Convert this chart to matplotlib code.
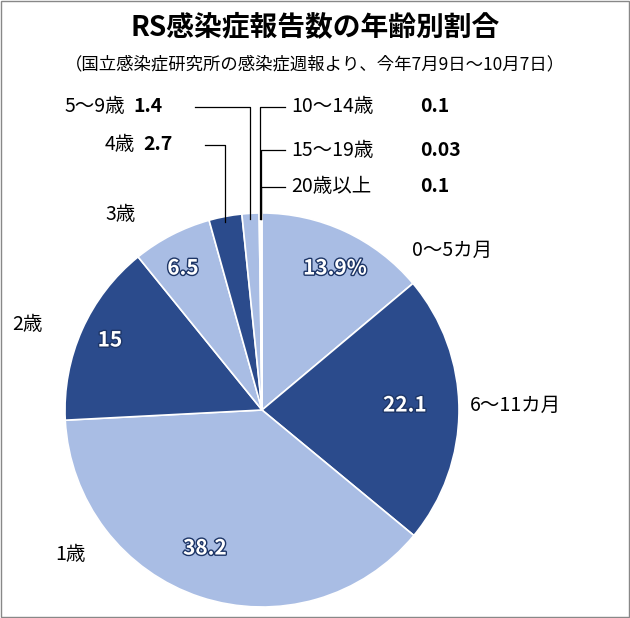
import numpy as np
import matplotlib.pyplot as plt
from matplotlib import patheffects as pe

plt.rcParams['font.family'] = ['Noto Sans CJK JP', 'DejaVu Sans']

ages = ["0～5カ月", "6～11カ月", "1歳", "2歳", "3歳", "4歳", "5～9歳",
        "10～14歳", "15～19歳", "20歳以上"]
shares = [13.9, 22.1, 38.2, 15, 6.5, 2.7, 1.4, 0.1, 0.03, 0.1]
share_text = ["13.9%", "22.1", "38.2", "15", "6.5", "2.7", "1.4", "0.1", "0.03", "0.1"]

light, dark = "#a9bde4", "#2b4b8c"
colors = [light if i % 2 == 0 else dark for i in range(len(shares))]

R = 197.0
cx, cy = 262, 410
W, H = 630, 618

fig = plt.figure(figsize=(6.3, 6.18), dpi=100)
ax = fig.add_axes([0, 0, 1, 1])
wedges, _ = ax.pie(shares, colors=colors, startangle=90, counterclock=False,
                   radius=1, wedgeprops=dict(edgecolor="white", linewidth=1.2))
ax.set_xlim(-cx / R, (W - cx) / R)
ax.set_ylim((cy - H) / R, cy / R)
ax.axis("off")


def px(x, y):
    return ((x - cx) / R, (cy - y) / R)


# border
fig.patches.append(plt.Rectangle((0.002, 0.002), 0.996, 0.996, transform=fig.transFigure,
                                 fill=False, edgecolor="#888888", linewidth=1))

fig.text(0.5, 1 - 27 / H, "RS感染症報告数の年齢別割合", ha="center", va="center",
         fontsize=20, fontweight="bold")
fig.text(0.5, 1 - 64 / H, "（国立感染症研究所の感染症週報より、今年7月9日～10月7日）",
         ha="center", va="center", fontsize=12.5)

# labels inside slices
inner = {0: (335, 268), 1: (405, 405), 2: (205, 548), 3: (110, 340), 4: (183, 268)}
for i, (x, y) in inner.items():
    ax.text(*px(x, y), share_text[i], ha="center", va="center", color="white",
            fontsize=15, fontweight="bold",
            path_effects=[pe.withStroke(linewidth=2, foreground="#1d3566")])

# outer labels for big slices
outer = {0: (412, 250), 1: (470, 405), 2: (55, 555), 3: (12, 325), 4: (105, 215)}
for i, (x, y) in outer.items():
    ax.text(*px(x, y), ages[i], ha="left", va="center", fontsize=14)

# small slices with leader lines
cum = np.cumsum([0] + shares)
tot = cum[-1]
lead = {5: (145, "left", 205), 6: (107, "left", 195),
        7: (107, "right", 285), 8: (150, "right", 285), 9: (187, "right", 285)}
for i, (ly, side, lx) in lead.items():
    mid = 90 - 360 * (cum[i] + shares[i] / 2) / tot
    xe = np.cos(np.radians(mid))
    ye = np.sin(np.radians(mid))
    ax.plot([xe, xe, (lx - cx) / R], [ye - 0.03, (cy - ly) / R, (cy - ly) / R],
            color="black", linewidth=0.9)
    if side == "left":
        vx = lx - 62
        ax.text(*px(vx, ly), share_text[i], ha="left", va="center", fontsize=14,
                fontweight="bold")
        ax.text(*px(vx - 8, ly), ages[i], ha="right", va="center", fontsize=14)
    else:
        ax.text(*px(lx + 6, ly), ages[i], ha="left", va="center", fontsize=14)
        ax.text(*px(420, ly), share_text[i], ha="left", va="center", fontsize=14,
                fontweight="bold")

fig.savefig("out.png", dpi=100)
